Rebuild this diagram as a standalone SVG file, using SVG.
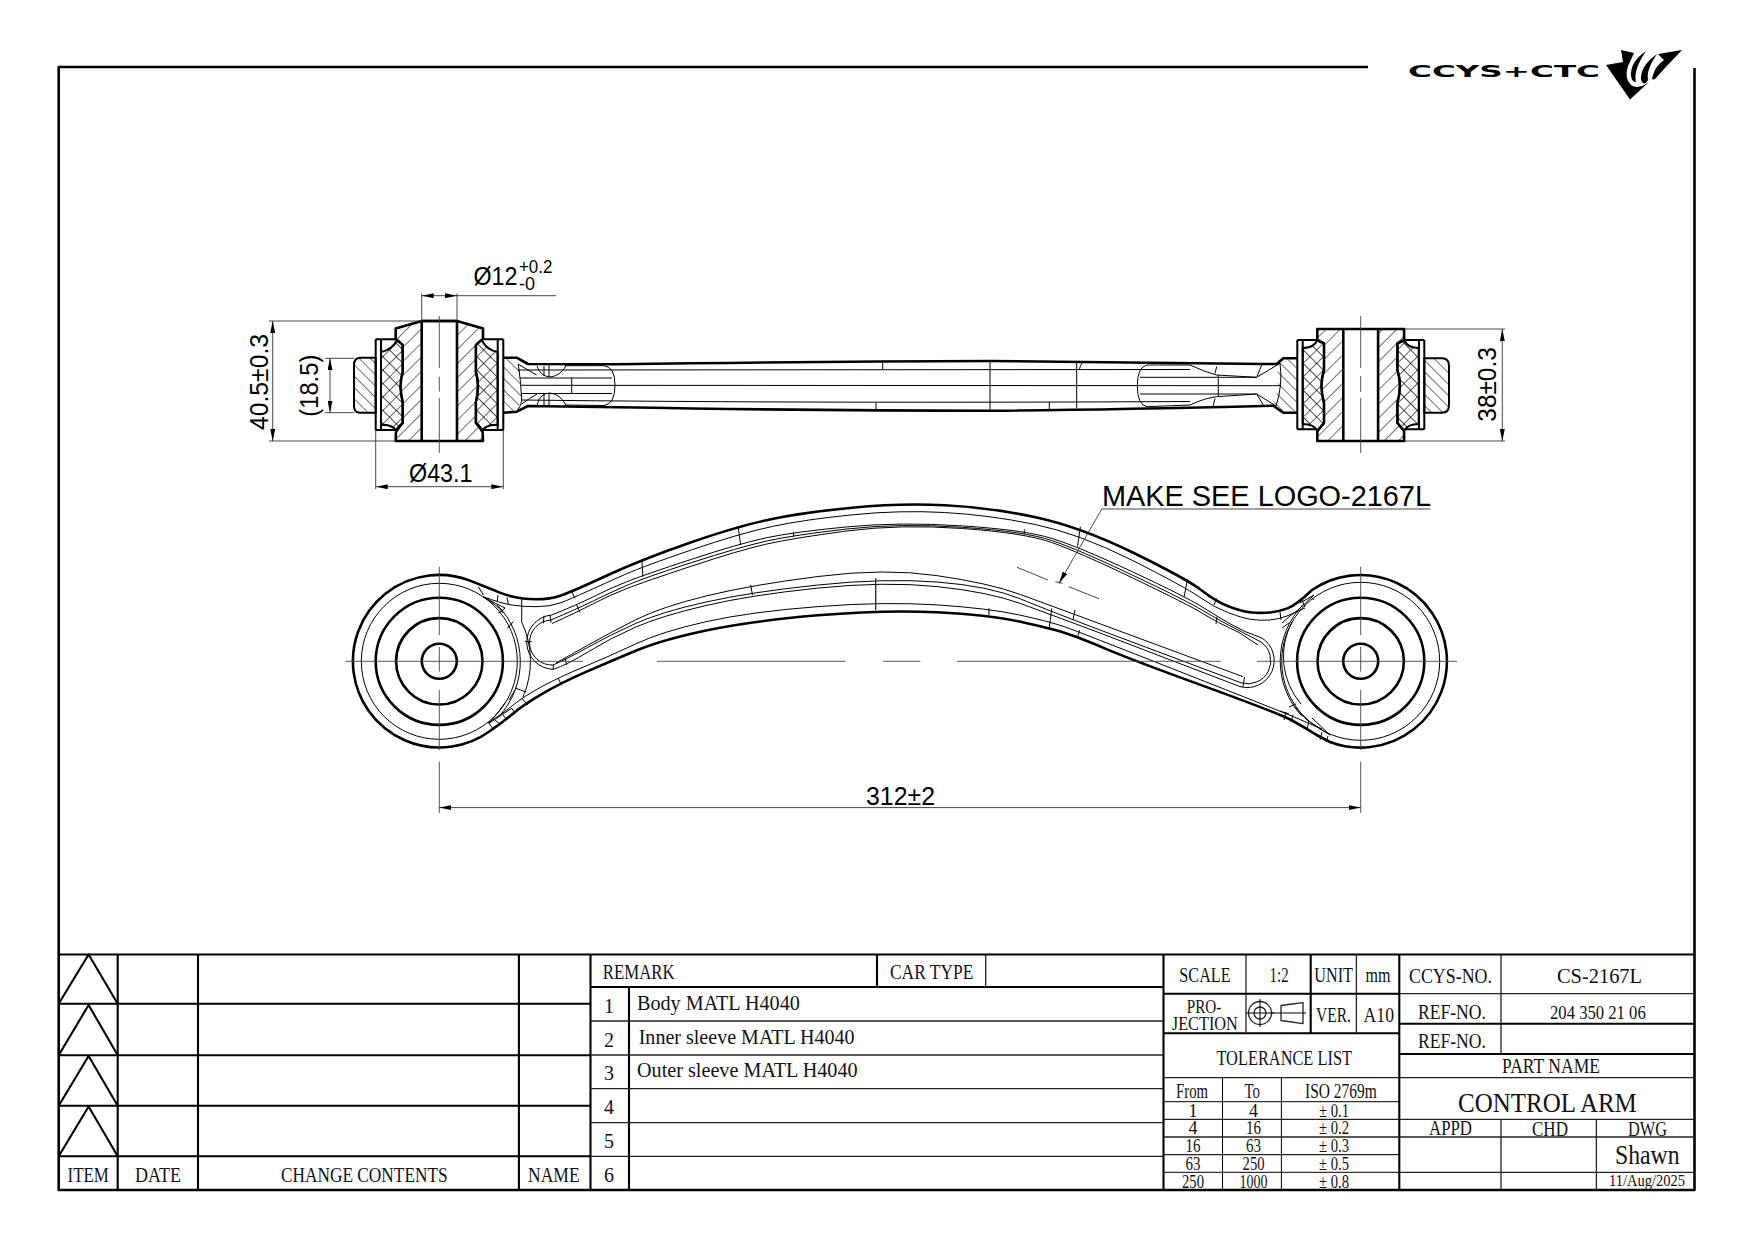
<svg xmlns="http://www.w3.org/2000/svg" width="1754" height="1240" viewBox="0 0 1754 1240">
<style>
text{font-family:"Liberation Serif","Times New Roman",serif;fill:#111}
.a{font-family:"Liberation Sans",Arial,sans-serif;font-size:25px;fill:#000}
.k,.m,.t,.d,.c,.g,.f{fill:none;stroke:#000;stroke-linejoin:round}
.k{stroke-width:2.6}
.m{stroke-width:2}
.t{stroke-width:1}
.d{stroke-width:.9;stroke:#333}
.c{stroke-width:.9;stroke:#444}
.g{stroke-width:2.1}
.f{stroke-width:1.3;stroke:#222}
.ar{marker-start:url(#ah);marker-end:url(#ah)}
.hx{fill:url(#hx)}
.h2{fill:url(#h2)}
.s20{font-size:20px}.s21{font-size:21px}.s22{font-size:22px}.s18{font-size:18px}
</style>
<defs>
<marker id="ah" viewBox="0 0 12 5" refX="12" refY="2.5" markerWidth="12" markerHeight="5" markerUnits="userSpaceOnUse" orient="auto-start-reverse"><path d="M0,0L12,2.5L0,5Z" fill="#000"/></marker>
<pattern id="h1" width="10" height="10" patternUnits="userSpaceOnUse" patternTransform="rotate(45)"><line x1="0" y1="0" x2="0" y2="10" stroke="#000" stroke-width="1.1"/></pattern>
<pattern id="h2" width="8" height="8" patternUnits="userSpaceOnUse" patternTransform="rotate(-45)"><line x1="0" y1="0" x2="0" y2="8" stroke="#000" stroke-width="1.1"/></pattern>
<pattern id="hx" width="9.5" height="9.5" patternUnits="userSpaceOnUse" patternTransform="rotate(45)"><path d="M0,0V9.5M0,0H9.5" fill="none" stroke="#000" stroke-width="1.2"/></pattern>
</defs>
<rect width="1754" height="1240" fill="#fff"/>

<g id="frame">
<path class="k" d="M1368,67H58.7V1190H1694.5V68"/>
</g>

<g id="logo">
<text x="1408" y="77" textLength="192" lengthAdjust="spacingAndGlyphs" style="font-family:'DejaVu Sans',sans-serif;font-weight:700;font-size:16.5px;fill:#000">CCYS+CTC</text>
<path d="M1606,65L1623,62L1621,50L1634,53L1628,66Q1624,78 1631,85Q1638,90 1649,82L1630,99.5Z" fill="#000"/>
<path d="M1646,51Q1630,62 1631,76Q1632,82 1636,82Q1633,70 1646,51Z" fill="#000"/>
<path d="M1657,54Q1640,66 1641,80Q1644,87 1648,80Q1646,70 1657,54Z" fill="#000"/>
<path d="M1682,50L1658,54L1664,60Q1655,66 1652,78Q1653,81 1656,78L1664,69Z" fill="#000"/>
</g>

<g id="top-view">
<!-- left bushing -->
<path fill="url(#h1)" stroke="none" d="M421.7,321L395.7,328.5L395.7,339Q400,342 402.7,345L402.7,372Q398.5,386 402.7,402L402.7,423Q397,428 396,432L395.7,441H421.7Z"/>
<path fill="url(#h1)" stroke="none" d="M457,321L483,328.5L483,339Q478.6,342 475.9,345L475.9,372Q480.1,386 475.9,402L475.9,423Q481.6,428 482.6,432L483,441H457Z"/>
<path class="k" d="M421.7,321L395.7,328.5L395.7,339Q400,342 402.7,345L402.7,372Q398.5,386 402.7,402L402.7,423Q397,428 396,432L395.7,441H483L482.6,432Q481.6,428 475.9,423L475.9,402Q480.1,386 475.9,372L475.9,345Q478.6,342 483,339L483,328.5L457,321Z"/>
<path class="k" d="M421.7,321V441M457,321V441M421.7,321H457"/>
<path class="m hx" d="M381,352Q392,350 397,340L402.7,345L402.7,372Q398.5,386 402.7,402L402.7,423L397,431Q392,424 381,425Z"/>
<path class="m hx" d="M497.6,352Q486.6,350 481.6,340L475.9,345L475.9,372Q480.1,386 475.9,402L475.9,423L481.6,431Q486.6,424 497.6,425Z"/>
<path class="m" d="M375.7,339.3H395.7M375.7,430H395.7M381,339.3V430M375.7,339.3V430M503.3,339.3H483M503.3,430H483M497.7,339.3V430M503.3,339.3V430"/>
<path class="m h2" d="M375.7,357.7H360Q354,358 354,365V406Q354,412.7 360,412.7H375.7Z"/>
<path fill="url(#h2)" stroke="none" d="M503.3,357.7H516.7L519,364Q521,383 522,400L517,411.7L503.3,412.7Z"/>
<!-- right bushing -->
<path fill="url(#h1)" stroke="none" d="M1343.3,329H1317.3V340L1324,343.5V370Q1319,385 1324,403V423L1317.3,431V441H1343.3Z"/>
<path fill="url(#h1)" stroke="none" d="M1378.1,329H1404.1V340L1397.4,343.5V370Q1402.4,385 1397.4,403V423L1404.1,431V441H1378.1Z"/>
<path class="k" d="M1317.3,329H1404.1V340L1397.4,343.5V370Q1402.4,385 1397.4,403V423L1404.1,431V441H1317.3V431L1324,423V403Q1319,385 1324,370V343.5L1317.3,340Z"/>
<path class="k" d="M1343.3,329V441M1378.1,329V441"/>
<path class="m hx" d="M1302.7,348Q1314,348 1317.3,340L1324,343.5V370Q1319,385 1324,403V423L1317.3,431Q1314,424 1302.7,424Z"/>
<path class="m hx" d="M1418.7,348Q1407.4,348 1404.1,340L1397.4,343.5V370Q1402.4,385 1397.4,403V423L1404.1,431Q1407.4,424 1418.7,424Z"/>
<path class="m" d="M1297.3,340H1317.3M1297.3,429.3H1317.3M1297.3,340V429.3M1302.7,340V429.3M1424.3,340H1404.1M1424.3,429.3H1404.1M1419,340V429.3M1424.3,340V429.3"/>
<path class="m h2" d="M1424.3,358.3H1442Q1449,358.3 1449,366V405Q1449,412.7 1442,412.7H1424.3Z"/>
<path fill="url(#h2)" stroke="none" d="M1297.3,358.3H1283.3L1276.7,364Q1281,385 1273.3,405.7L1283.3,412.7H1297.3Z"/>
<!-- arm outline -->
<path class="k" d="M503.3,357.7H516.7L528,364L616.7,364.3Q820,361.5 990,361Q1100,362 1263.3,364H1276.7L1283.3,358.3H1297.3"/>
<path class="k" d="M503.3,412.7L516.7,411.7L528,406L616.7,407.3Q820,410.7 990,410.7Q1100,410 1273.3,405.7L1283.3,412.7H1297.3"/>
<!-- arm inner lines -->
<path class="t" d="M518,370L1190,369.5M521,400Q820,403.5 1190,401.5M520,385.3L1281,385.7M520,378H612M521,393.5H612M571.7,378V393.5M1140,377.3H1256.7M1140,394H1256.7"/>
<path class="t" d="M565,365.7H604Q615,367 615,385Q615,404 604,405.5L565,405"/>
<path class="t" d="M1190,365L1147,365Q1137.3,367 1137.3,385.7Q1137.3,405 1147,406.7L1190,405"/>
<path class="t" d="M1190,365Q1205,372 1216.7,375L1256.7,377.3L1280,363.3M1190,405Q1205,398 1216.7,396.7L1256.7,394L1276,406M1218.3,375V396.7M1280,363.3Q1283,385 1276,406"/>
<path class="t" d="M1216.7,366.5L1215,373.5M1261.7,365L1257,376.5M1215,398.5L1213,406.5M1257.3,395L1263.3,405"/>
<path class="t" d="M882.7,360.7V369M876,402.7V410.7M990,361V410.7M1049.3,402V410.7M1076.7,362V408M1083,362Q1080,365 1079.5,369"/>
<path class="t" d="M518,364Q526,369 536.7,375M521.7,404Q530,398 537,394M537,366Q540,376 550,377Q560,376 566,366M537,405Q540,393 550,393Q560,394 566,405M544,366V376M549,365V377M544,394V405M549,393V406M518.3,364Q521,383 521.7,400Q522,405 517,411"/>
<path class="c" d="M439.3,316V368M439.3,376.7V391.7M439.3,398V453M1360.7,316V368M1360.7,376V392M1360.7,398V453"/>
</g>

<g id="front-view">
<path class="k" d="M470,580.6A86.3,86.3 0 1 0 490,731Q503.3,721.7 513.3,713.4Q523.3,705 541.7,694.2Q560,683.3 585,672.4Q610,661.5 635.7,650.8Q661.4,640 706,630.5Q750.7,621 818,615.3Q885,609.6 937,612.3Q989,615 1019.5,621.6Q1050,628.3 1064.3,632.8Q1078.6,637.3 1105.3,648.6Q1132,660 1205.3,686.6Q1278.6,713.3 1291.1,720Q1303.6,726.7 1316.6,735L1330,742A86.3,86.3 0 1 0 1312,590Q1296.4,605 1287.5,608.4Q1278.6,611.7 1269.7,612.5Q1260.7,613.3 1251.9,612.5Q1243,611.7 1229.5,606.7Q1216,601.7 1201.8,590.5Q1187.5,579.3 1133.8,553Q1080,526.7 1034.5,517Q989,507.3 944.5,505.2Q900,503 852,507.7Q804,512.3 771,519.2Q738,526 689.9,542.7Q641.8,559.3 606.9,575.5Q572,591.7 561,595.5Q550,599.3 536,599.3Q522,599.3 511,596.3Q500,593.3 491.5,589.2Z"/>
<circle class="k" cx="439.3" cy="661.3" r="63.6"/><circle class="k" cx="439.3" cy="661.3" r="43.2"/><circle class="k" cx="439.3" cy="661.3" r="17.5"/>
<circle class="k" cx="1360.7" cy="661.3" r="63.6"/><circle class="k" cx="1360.7" cy="661.3" r="43.2"/><circle class="k" cx="1360.7" cy="661.3" r="17.5"/>
<circle class="t" cx="439.3" cy="661.3" r="78"/><circle class="t" cx="1360.7" cy="661.3" r="79"/>
<path class="t" d="M483.3,596.7Q500,603 511,604.9Q522,606.7 536,606.7Q550,606.7 560,603Q570,599.3 590,590.2Q610,581 626.5,573.8Q643,566.5 691.5,549.9Q740,533.3 772.5,526.4Q805,519.5 852.5,514.8Q900,510 944.5,512.5Q989,515 1033.8,524.2Q1078.6,533.3 1132.2,560.3Q1185.7,587.3 1199.9,597.3Q1214,607.3 1228.5,612.8Q1243,618.3 1251.9,619.5Q1260.7,620.7 1269.7,620Q1278.6,619.3 1287,616Q1296,612 1305,608"/>
<path class="t" d="M488,723Q503.3,713.3 513.3,705Q523.3,696.7 541.7,686.7Q560,676.7 585,666.4Q610,656 635.7,643.9Q661.4,631.7 706,621.7Q750.7,611.7 818,606.6Q885,601.5 937,604.9Q989,608.3 1019.5,615Q1050,621.7 1064.3,626.7Q1078.6,631.7 1180,671.7Q1282,711.7 1300,719.5L1322,729"/>
<path class="t" d="M551.7,615Q576.7,605 593.4,596.7Q610,588.3 626.8,581.7Q643.6,575 691.8,559.2Q740,543.3 766.8,537.7Q793.6,532 846.8,526.9Q900,521.7 962.5,525.9Q1025,530 1051.8,538.4Q1078.6,546.7 1132.2,571.7Q1185.7,596.7 1201.8,606.7Q1217.9,616.7 1231,624.4Q1244,632 1262,638A27,27 0 0 1 1240,686.6L1100,633Q1051.8,615 1020.4,603.5Q989,592 937,586.6Q885,581.2 817.9,588.1Q750.7,595 706,605.5Q661,616 635.5,627.2Q610,638.3 588.4,651.7Q566.7,665 553.3,669.3A27.2,27.2 0 0 1 551.7,615Z"/>
<path class="t" d="M551,620Q576.7,609 593.4,600.9Q610,592.7 626.8,585.4Q643.6,578 691.8,562.5Q740,547 766.8,541Q793.6,535 846.8,529Q900,523 962.5,527.3Q1025,531.5 1051.8,540.5Q1078.6,549.5 1132.8,575.3Q1187,601 1202,610Q1217,619 1228.5,625Q1240,631 1261,642A23,23 0 0 1 1241,682.8L1100,630Q1051.8,611.7 1020.4,598.9Q989,586 937,582Q885,578 817.9,585Q750.7,592 706,602Q661,612 635.5,623.5Q610,635 587.5,647.5Q565,660 553,665A22.5,22.5 0 0 1 551,620Z"/>
<path class="t" d="M552,623.5Q576.7,612.3 593.4,603.7Q610,595 626.8,588.5Q643.6,582 691.8,566Q740,550 766.8,544Q793.6,538 846.8,531Q900,524 962.5,528.5Q1025,533 1051.8,542.5Q1078.6,552 1133.8,578.5Q1189,605 1202.5,613.4Q1216,621.7 1239,632.5L1258,645"/>
<path class="t" d="M1243,676.7L1100,623.8Q1051.8,606 1020.4,594.5Q989,583 936,575.5Q885,568 817.9,576.5Q750.7,585 706,596Q661,607 635.5,619.9Q610,632.7 587.5,645.4Q565,658 556,663"/>
<path class="t" d="M497,604.7A81,81 0 0 1 499,716.3M521.7,622A91,91 0 0 1 523,697M1303,604.7A81,81 0 0 0 1302,716.3M1292,622A73,73 0 0 0 1301,704"/>
<path class="t" d="M483,597Q497,604 505,608M484,597Q497,605 503.3,613M489,723.3Q498,713 505,703M489,723.3Q500,716 511.7,708.3"/>
<path class="t" d="M478.3,586.7L483.3,595M498,595L497.3,601M507,597.3L508.3,604M521.7,599.3V622M498.3,613.3L505,608.3M513.3,621.7L507.3,628.3M515,688L526,692M509,700L515,690M521.7,698.3L528,705M511.7,708.3L515,713.3M503,715L507,720M495,720L500,724.3M489,723.3L494,730"/>
<path class="t" d="M544,615.7L543.3,623.3M550,615L551,622.7M525,641.7H531.7M553.3,665V669.3M565,658.3L566.7,665M576.7,605L580,612.3M571.7,591.7L575,598.3M558.3,678.3L561,684"/>
<path class="t" d="M641.8,559.3L642.9,576.7M738,526L740.7,545M793.6,532.3V536.7M750.7,585L752.5,595M989,608.3V615M1024.3,529.3V534M1080.4,526.7L1077.5,546.7M1051.8,608.3L1049.3,627.3M1075,610L1073,620M1079.6,630L1077.5,637.3M1187.5,579.3L1184,597.3M1217,598.3L1214,605M1217,616.7L1216,624M1244.6,676.7L1243,686.7"/>
<path class="f" d="M875.7,578.3V610"/>
<path class="t" d="M1314,595L1298,610Q1288,617 1282,623M1314,595L1300,603M1330,735L1307,720L1294.6,706.7M1330,735L1312,718M1280,612L1281,620M1289,623L1282,628M1302,600L1305,607M1311,597L1314,600M1280,711L1289,714M1286,712L1284,720M1293,715L1291,722M1309,721L1307,729M1322,732L1320,740M1328,736L1326,742M1289,707L1296,704"/>
<path class="c" d="M345.4,661.3H583M657,661.3H845.4M882.9,661.3H920.4M957,661.3H1220.7M1257,661.3H1457"/>
<path class="c" d="M439.3,566.7V635M439.3,647V671.7M439.3,690V750M439.3,761.7V813M1360.7,566.7V635M1360.7,647V671.7M1360.7,690V750M1360.7,761.7V813"/>
<path class="d" d="M1017,567.3L1048,580M1055.4,581.7L1062.5,583.3M1068.6,586.7L1099,598.7"/>
</g>

<g id="dimensions">
<path class="d" d="M421.7,293.3V321M457,293.3V321"/>
<path class="d ar" d="M421.7,295.7H457"/>
<path class="d" d="M457,295.7H556"/>
<text class="a" x="473.5" y="285" textLength="44" lengthAdjust="spacingAndGlyphs">Ø12</text>
<text class="a" x="519" y="273.3" style="font-size:18px" textLength="33.3" lengthAdjust="spacingAndGlyphs">+0.2</text>
<text class="a" x="519" y="290" style="font-size:18px">-0</text>

<path class="d" d="M269,321H421.7M269,441H395.7"/>
<path class="d ar" d="M272.7,321V441"/>
<text class="a" transform="translate(268,430) rotate(-90)" textLength="96" lengthAdjust="spacingAndGlyphs">40.5±0.3</text>

<path class="d" d="M325,358.3H354M325,412.7H354"/>
<path class="d ar" d="M330,358.3V412.7"/>
<text class="a" transform="translate(318,416.7) rotate(-90)" textLength="62" lengthAdjust="spacingAndGlyphs">(18.5)</text>

<path class="d" d="M375.7,430V489M503.3,430V489"/>
<path class="d ar" d="M375.7,486.7H503.3"/>
<text class="a" x="409" y="481.7" textLength="63.5" lengthAdjust="spacingAndGlyphs">Ø43.1</text>

<path class="d" d="M1405,329H1505M1405,441H1505"/>
<path class="d ar" d="M1502.3,329V441"/>
<text class="a" transform="translate(1496,421.7) rotate(-90)" textLength="74.5" lengthAdjust="spacingAndGlyphs">38±0.3</text>

<path class="d ar" d="M439.3,807.6H1360.7"/>
<text class="a" x="866" y="805" textLength="69" lengthAdjust="spacingAndGlyphs">312±2</text>

<path class="d" d="M1430.4,509H1101.8"/>
<path class="d" marker-end="url(#ah)" d="M1101.8,509L1059,583.3"/>
<text class="a" x="1102" y="505.6" textLength="329" lengthAdjust="spacingAndGlyphs" style="font-size:29px">MAKE SEE LOGO-2167L</text>
</g>

<g id="title-block" transform="translate(0,1)">
<path class="g" d="M58.7,953.5H1694.5"/>
<!-- change table -->
<path class="g" d="M117.7,953.5V1189M198,953.5V1189M518.9,953.5V1189M590.5,953.5V1189M58.7,1002.7H590.5M58.7,1054.3H590.5M58.7,1104.7H590.5M58.7,1155.3H590.5"/>
<path class="g" d="M58.7,1002.7L88.6,953.5L117.7,1002.7M58.7,1054.3L88.6,1004L117.7,1054.3M58.7,1104.7L88.6,1055L117.7,1104.7M58.7,1155.3L88.6,1105.5L117.7,1155.3"/>
<text class="s20" x="67.5" y="1181" textLength="41.4" lengthAdjust="spacingAndGlyphs">ITEM</text>
<text class="s20" x="135" y="1181" textLength="46" lengthAdjust="spacingAndGlyphs">DATE</text>
<text class="s20" x="281" y="1181" textLength="166.6" lengthAdjust="spacingAndGlyphs">CHANGE CONTENTS</text>
<text class="s20" x="528" y="1181" textLength="51.6" lengthAdjust="spacingAndGlyphs">NAME</text>
<!-- remark table -->
<path class="g" d="M590.5,986H1163.5M629,986V1189M877,953.5V986"/>
<path class="f" d="M985.7,953.5V986M629,1020H1163.5M590.5,1020H629M590.5,1054H1163.5M590.5,1087.7H1163.5M590.5,1121.7H1163.5M590.5,1155.3H1163.5"/>
<text class="s20" x="602.7" y="978.3" textLength="72" lengthAdjust="spacingAndGlyphs">REMARK</text>
<text class="s20" x="890" y="978.3" textLength="83.4" lengthAdjust="spacingAndGlyphs">CAR TYPE</text>
<g text-anchor="middle" class="s20">
<text x="609" y="1012">1</text><text x="609" y="1046">2</text><text x="609" y="1079">3</text><text x="609" y="1112.7">4</text><text x="609" y="1146.7">5</text><text x="609" y="1181">6</text>
</g>
<text class="s22" x="637" y="1009.3" textLength="162.8" lengthAdjust="spacingAndGlyphs">Body MATL H4040</text>
<text class="s22" x="638.7" y="1042.7" textLength="215.8" lengthAdjust="spacingAndGlyphs">Inner sleeve MATL H4040</text>
<text class="s22" x="637" y="1076" textLength="220.6" lengthAdjust="spacingAndGlyphs">Outer sleeve MATL H4040</text>
<!-- scale / projection -->
<path class="g" d="M1163.5,953.5V1189M1399.3,953.5V1189M1310.7,953.5V1032.3M1163.5,992.7H1399.3M1163.5,1032.3H1399.3"/>
<path class="f" d="M1246,953.5V1032.3M1356.4,953.5V1032.3M1163.5,1076.7H1399.3"/>
<text class="s20" x="1179.3" y="980.7" textLength="51.4" lengthAdjust="spacingAndGlyphs">SCALE</text>
<text class="s20" x="1269.6" y="980.7" textLength="19" lengthAdjust="spacingAndGlyphs">1:2</text>
<text class="s20" x="1314.3" y="980.7" textLength="38.6" lengthAdjust="spacingAndGlyphs">UNIT</text>
<text class="s20" x="1365.4" y="980.7" textLength="25" lengthAdjust="spacingAndGlyphs">mm</text>
<text class="s18" x="1186.8" y="1011.7" textLength="34.6" lengthAdjust="spacingAndGlyphs">PRO-</text>
<text class="s18" x="1171.8" y="1029" textLength="66.1" lengthAdjust="spacingAndGlyphs">JECTION</text>
<text class="s20" x="1316" y="1020.7" textLength="35" lengthAdjust="spacingAndGlyphs">VER.</text>
<text class="s20" x="1363.6" y="1020.7" textLength="30.4" lengthAdjust="spacingAndGlyphs">A10</text>
<circle class="f" cx="1260" cy="1012" r="11.5"/><circle class="f" cx="1260" cy="1012" r="6"/>
<path class="t" d="M1246,1012H1274M1260,998V1026M1272,1012H1306"/>
<path class="f" d="M1281,1004.5L1303,1001.7V1022.7L1281,1019.5Z"/>
<!-- tolerance -->
<text class="s20" x="1216.4" y="1064" textLength="135.6" lengthAdjust="spacingAndGlyphs">TOLERANCE LIST</text>
<path class="t" d="M1222.5,1076.7V1189M1281.4,1076.7V1189M1163.5,1100.7H1399.3"/>
<path class="f" d="M1163.5,1118.3H1399.3M1163.5,1136H1399.3M1163.5,1153.7H1399.3"/>
<path class="t" d="M1163.5,1171.3H1399.3"/>
<text class="s20" x="1176" y="1096.7" textLength="32" lengthAdjust="spacingAndGlyphs">From</text>
<text class="s20" x="1244.6" y="1096.7" textLength="15.4" lengthAdjust="spacingAndGlyphs">To</text>
<text class="s20" x="1305" y="1096.7" textLength="71.8" lengthAdjust="spacingAndGlyphs">ISO 2769m</text>
<g class="s18" text-anchor="middle">
<text x="1193" y="1115.7">1</text><text x="1253.6" y="1115.7">4</text>
<text x="1193" y="1133.3">4</text><text x="1253.6" y="1133.3" textLength="15" lengthAdjust="spacingAndGlyphs">16</text>
<text x="1193" y="1151" textLength="15" lengthAdjust="spacingAndGlyphs">16</text><text x="1253.6" y="1151" textLength="15" lengthAdjust="spacingAndGlyphs">63</text>
<text x="1193" y="1169.3" textLength="15" lengthAdjust="spacingAndGlyphs">63</text><text x="1253.6" y="1169.3" textLength="22" lengthAdjust="spacingAndGlyphs">250</text>
<text x="1193" y="1186.7" textLength="22" lengthAdjust="spacingAndGlyphs">250</text><text x="1253.6" y="1186.7" textLength="28" lengthAdjust="spacingAndGlyphs">1000</text>
</g>
<text class="s18" x="1319" y="1115.7" textLength="30" lengthAdjust="spacingAndGlyphs">± 0.1</text>
<text class="s18" x="1319" y="1133.3" textLength="30" lengthAdjust="spacingAndGlyphs">± 0.2</text>
<text class="s18" x="1319" y="1151" textLength="30" lengthAdjust="spacingAndGlyphs">± 0.3</text>
<text class="s18" x="1319" y="1169.3" textLength="30" lengthAdjust="spacingAndGlyphs">± 0.5</text>
<text class="s18" x="1319" y="1186.7" textLength="30" lengthAdjust="spacingAndGlyphs">± 0.8</text>
<!-- right block -->
<path class="f" d="M1501,953.5V1053M1399.3,992.7H1694.5M1501,1118.3V1189M1596.4,1118.3V1189M1399.3,1076.7H1694.5M1399.3,1118.3H1694.5M1399.3,1136H1694.5M1399.3,1171.3H1694.5"/>
<path class="g" d="M1399.3,1022.7H1694.5M1399.3,1053H1694.5"/>
<text class="s21" x="1409" y="981.7" textLength="83" lengthAdjust="spacingAndGlyphs">CCYS-NO.</text>
<text class="s22" x="1557" y="982.3" textLength="85" lengthAdjust="spacingAndGlyphs">CS-2167L</text>
<text class="s21" x="1417.9" y="1018.3" textLength="68" lengthAdjust="spacingAndGlyphs">REF-NO.</text>
<text class="s18" x="1550" y="1018.3" textLength="95.7" lengthAdjust="spacingAndGlyphs">204 350 21 06</text>
<text class="s21" x="1417.9" y="1046.7" textLength="68" lengthAdjust="spacingAndGlyphs">REF-NO.</text>
<text class="s20" x="1502" y="1072" textLength="98" lengthAdjust="spacingAndGlyphs">PART NAME</text>
<text x="1458" y="1110.7" textLength="178.8" lengthAdjust="spacingAndGlyphs" style="font-size:28px">CONTROL ARM</text>
<text class="s20" x="1429" y="1134" textLength="43" lengthAdjust="spacingAndGlyphs">APPD</text>
<text class="s20" x="1532" y="1135" textLength="36" lengthAdjust="spacingAndGlyphs">CHD</text>
<text class="s20" x="1628" y="1135" textLength="39" lengthAdjust="spacingAndGlyphs">DWG</text>
<text x="1615" y="1163.3" textLength="64.6" lengthAdjust="spacingAndGlyphs" style="font-size:27px">Shawn</text>
<text x="1609" y="1185" textLength="76" lengthAdjust="spacingAndGlyphs" style="font-size:17px">11/Aug/2025</text>
</g>
</svg>
